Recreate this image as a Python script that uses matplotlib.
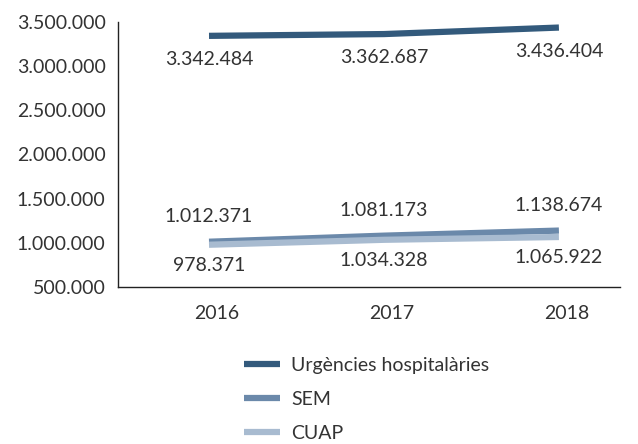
import matplotlib.pyplot as plt
from matplotlib.ticker import FuncFormatter
import matplotlib.transforms as mtransforms

years = ["2016", "2017", "2018"]
urgencies = [3342484, 3362687, 3436404]
sem = [1012371, 1081173, 1138674]
cuap = [978371, 1034328, 1065922]

series_names = ["Urgències hospitalàries", "SEM", "CUAP"]
colors = ["#335a7c", "#6b89aa", "#a8bbd0"]

plt.rcParams["font.family"] = ["Lato", "DejaVu Sans"]
FS = 14
TXT = "#333333"


def dots(v, pos=None):
    return f"{int(v):,}".replace(",", ".")


fig = plt.figure(figsize=(6.38, 4.44), dpi=100)
ax = fig.add_axes([0.185, 0.3536, 0.787, 0.597])

x = list(range(len(years)))
ax.plot(x, urgencies, color=colors[0], lw=4.5, label=series_names[0], solid_capstyle="butt")
ax.plot(x, sem, color=colors[1], lw=4.5, label=series_names[1], solid_capstyle="butt")
ax.plot(x, cuap, color=colors[2], lw=4.5, label=series_names[2], solid_capstyle="butt")

for xi, v in zip(x, urgencies):
    ax.annotate(dots(v), (xi, v), xytext=(0, -17), textcoords="offset points",
                ha="center", va="center", fontsize=FS, color=TXT)
for xi, v in zip(x, sem):
    ax.annotate(dots(v), (xi, v), xytext=(0, 18), textcoords="offset points",
                ha="center", va="center", fontsize=FS, color=TXT)
for xi, v in zip(x, cuap):
    ax.annotate(dots(v), (xi, v), xytext=(0, -15), textcoords="offset points",
                ha="center", va="center", fontsize=FS, color=TXT)

ax.set_xlim(-0.52, 2.35)
ax.set_ylim(500000, 3500000)
ax.set_yticks(range(500000, 3500001, 500000))
ax.yaxis.set_major_formatter(FuncFormatter(dots))
ax.set_xticks(x)
ax.set_xticklabels(years)

for s in ["top", "right"]:
    ax.spines[s].set_visible(False)
for s in ["left", "bottom"]:
    ax.spines[s].set_linewidth(1.0)
    ax.spines[s].set_color("#222222")
ax.tick_params(axis="both", length=0, labelsize=FS, colors=TXT)
ax.tick_params(axis="y", pad=9)
ax.tick_params(axis="x", pad=13)

shift = mtransforms.ScaledTranslation(8 / 100, 0, fig.dpi_scale_trans)
for lbl in ax.get_xticklabels():
    lbl.set_transform(lbl.get_transform() + shift)

leg = fig.legend(loc="upper left", bbox_to_anchor=(0.383, 0.197), frameon=False,
                 fontsize=FS, handlelength=1.85, handletextpad=0.55, labelspacing=0.88,
                 borderpad=0, borderaxespad=0)
for t in leg.get_texts():
    t.set_color(TXT)

fig.savefig("out.png", dpi=100)
